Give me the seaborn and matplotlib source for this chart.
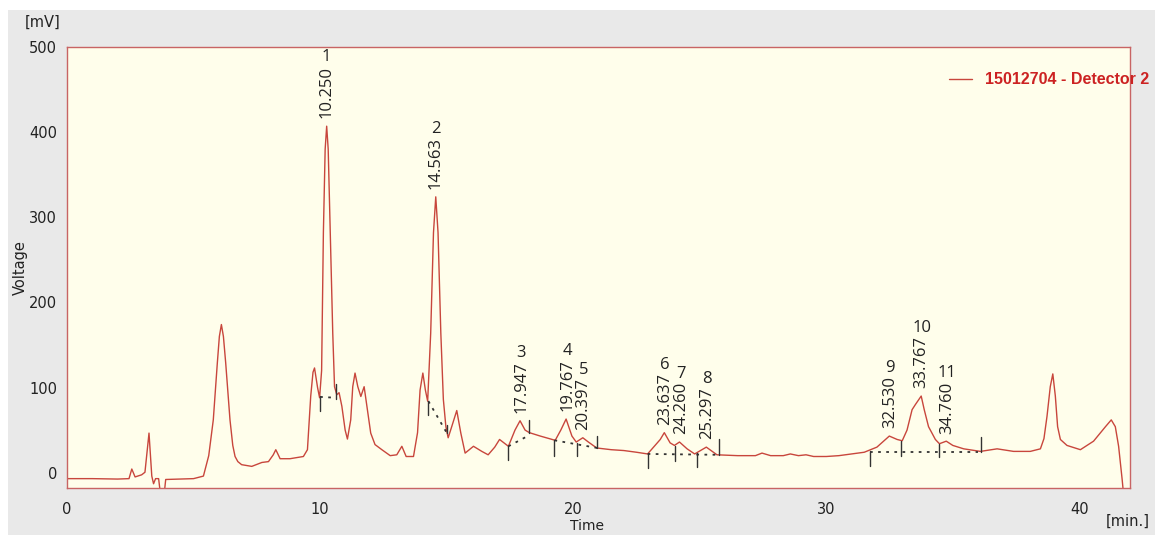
import numpy as np
import pandas as pd
import seaborn as sns
import matplotlib
matplotlib.use("Agg")
import matplotlib.pyplot as plt
from matplotlib.patches import Rectangle

# ---------------- data ----------------
time_min = [0.0, 1.0, 2.0, 2.45, 2.56, 2.69, 2.95, 3.08, 3.18, 3.24, 3.3, 3.35, 3.42, 3.5, 3.62, 3.68,
            3.85, 3.9, 4.5, 5.0, 5.39, 5.6, 5.78, 5.94, 6.02, 6.1, 6.18, 6.27, 6.44, 6.55, 6.64, 6.75,
            6.9, 7.3, 7.7, 7.96, 8.15, 8.25, 8.42, 8.81, 9.34, 9.5, 9.57, 9.63, 9.72, 9.78, 9.85, 9.9,
            9.98, 10.06, 10.13, 10.2, 10.26, 10.32,
            10.4, 10.5, 10.57, 10.66, 10.75, 10.86, 10.99, 11.08, 11.21, 11.29, 11.38, 11.49,
            11.61, 11.74, 11.87, 12.0, 12.17, 12.44, 12.77, 13.03, 13.23, 13.4, 13.69, 13.85,
            13.95, 14.06, 14.16, 14.25, 14.37, 14.48, 14.57, 14.66, 14.77, 14.87, 14.97,
            15.06, 15.2, 15.4, 15.56, 15.73, 16.06, 16.39, 16.64, 16.9, 17.09, 17.44, 17.7,
            17.9, 18.1, 18.27, 18.7, 19.29, 19.51, 19.72, 19.95, 20.12, 20.38, 20.6, 20.93,
            21.5, 22.0, 22.5, 22.94, 23.44, 23.6, 23.83, 24.0, 24.2, 24.5, 24.8, 25.26, 25.68,
            26.5, 27.2, 27.46, 27.8, 28.3, 28.58, 28.9, 29.2, 29.5, 30.0, 30.5, 31.0, 31.5,
            32.0, 32.49, 32.8, 33.0, 33.19, 33.39, 33.52, 33.75, 33.87, 34.04, 34.31, 34.47,
            34.74, 35.0, 35.43, 36.09, 36.75, 37.4, 38.06, 38.46, 38.6, 38.72, 38.85, 38.95,
            39.05, 39.14, 39.25, 39.51, 40.04, 40.56, 41.03, 41.26, 41.42, 41.55, 41.69, 41.76]
voltage_mv = [-7, -7, -7.5, -7, 4.3, -5, -2.5, 0.5, 30, 46.5, 20, -4, -13, -7, -7, -22,
              -22, -8, -7.5, -7, -4, 20, 62, 129, 160, 174, 160, 129, 62, 32, 19, 13,
              9.4, 7.4, 12, 13, 21, 27, 16.4, 16.4, 19, 27, 62, 90, 118, 123, 110, 100,
              88, 120, 282, 380, 407, 380,
              282, 164, 101, 91.5, 94, 78, 50, 39.5, 62, 101, 117, 101,
              89.5, 101, 74, 46.5, 33, 27, 20, 21, 31, 19, 19, 47,
              97, 117, 97, 84, 164, 282, 324, 282, 164, 86, 54,
              41, 54, 73, 46.5, 23, 31, 25, 21, 30, 39, 31, 50,
              61, 50, 47, 43, 38, 50, 63, 43, 36, 41, 36, 29,
              27, 26, 24, 22, 39, 47, 35, 32, 36, 28, 22, 30, 21,
              20, 20, 23, 20, 20, 22, 20, 21, 19, 19, 20, 22, 24,
              30, 43, 39, 37.5, 50, 74, 80, 90, 74, 54, 39, 34,
              37, 32, 28, 25, 28, 25, 25, 28, 40, 66, 101, 116,
              90, 54, 39, 32, 27, 37, 54, 62, 54, 31, -8, -30]

# integration markers (vertical ticks)
mark_t = [10.0, 10.62, 14.25, 15.03, 17.44, 18.27, 19.26, 20.17, 20.96,
          22.94, 24.03, 24.89, 25.78, 31.74, 32.95, 34.47, 36.11]
mark_lo = [72, 87, 68, 47, 15, 47, 20, 20, 29, 5.5, 14, 7, 21, 8, 20, 18, 24]
mark_hi = [90, 104, 84, 56, 31, 62, 38, 35, 43, 22, 31, 23, 39, 25, 37.5, 34, 42]

# dotted baselines (start time, start mV, end time, end mV)
base_t0 = [10.0, 14.28, 17.44, 19.26, 22.94, 31.74]
base_v0 = [89, 84, 31, 38, 22, 24.5]
base_t1 = [10.62, 15.0, 18.2, 20.96, 25.7, 36.0]
base_v1 = [88, 47, 43, 29, 21, 24.5]

# peak labels
peak_num = ["1", "2", "3", "4", "5", "6", "7", "8", "9", "10", "11"]
peak_rt = ["10.250", "14.563", "17.947", "19.767", "20.397", "23.637",
           "24.260", "25.297", "32.530", "33.767", "34.760"]
peak_t = [10.250, 14.563, 17.947, 19.767, 20.397, 23.637, 24.260, 25.297, 32.530, 33.767, 34.760]
peak_v = [408, 324, 61, 63, 41, 47, 36, 30, 43, 90, 37]

x_ticks = [0, 10, 20, 30, 40]
y_ticks = [0, 100, 200, 300, 400, 500]
series_name = "15012704 - Detector 2"

# ---------------- plotting ----------------
sns.set_style("white")
plt.rcParams["font.family"] = ["DejaVu Sans"]

W, H = 1155, 535
fig = plt.figure(figsize=(W / 100, H / 100), dpi=100)
fig.patch.set_facecolor("#e9e9e9")
fig.patches.append(Rectangle((0, 1 - 10 / H), 1, 10 / H, transform=fig.transFigure,
                             facecolor="white", edgecolor="none", zorder=0))
fig.patches.append(Rectangle((0, 0), 8 / W, 1, transform=fig.transFigure,
                             facecolor="white", edgecolor="none", zorder=0))

ax = fig.add_axes([67 / W, 1 - 488 / H, (1130 - 67) / W, (488 - 47) / H])
ax.set_facecolor("#fffeeb")

line_color = "#c8463c"
df = pd.DataFrame({"Time": time_min, "Voltage": voltage_mv})
sns.lineplot(data=df, x="Time", y="Voltage", ax=ax, color=line_color, lw=1.0,
             estimator=None, sort=False, label=series_name)

for t, lo, hi in zip(mark_t, mark_lo, mark_hi):
    ax.plot([t, t], [lo, hi], color="#333333", lw=1.0)
for t0, v0, t1, v1 in zip(base_t0, base_v0, base_t1, base_v1):
    ax.plot([t0, t1], [v0, v1], color="#333333", lw=1.3, ls=(0, (1.5, 3)))

label_font = ["Open Sans", "DejaVu Sans"]
for num, rt, t, v in zip(peak_num, peak_rt, peak_t, peak_v):
    ax.annotate(rt, xy=(t, v), xytext=(0, 5.5), textcoords="offset points",
                rotation=90, ha="center", va="bottom", fontsize=12,
                family=label_font, color="#222222")
    ax.annotate(num, xy=(t, v), xytext=(0, 49), textcoords="offset points",
                ha="center", va="center", fontsize=12,
                family=label_font, color="#222222")

ax.set_xlim(0, 42)
ax.set_ylim(-18, 500)
ax.set_xticks(x_ticks)
ax.set_yticks(y_ticks)
spine_color = "#c86464"
for s in ax.spines.values():
    s.set_color(spine_color)
    s.set_linewidth(1.0)
ax.tick_params(axis="y", direction="out", length=4, width=1, color=spine_color,
               pad=3, labelsize=10.5, labelcolor="#222222")
ax.tick_params(axis="x", direction="out", length=5, width=1, color=spine_color,
               pad=5, labelsize=10.5, labelcolor="#222222")
ax.set_xlabel("")
ax.set_ylabel("")

leg = ax.legend(loc="upper left", bbox_to_anchor=(935 / W, 1 - 58 / H),
                bbox_transform=fig.transFigure, frameon=False,
                handlelength=1.4, handletextpad=0.8,
                prop={"family": "Liberation Sans", "weight": "bold", "size": 11.5})
for txt in leg.get_texts():
    txt.set_color("#cc2222")
leg.set_clip_on(False)

fig.text(20 / W, 1 - 268 / H, "Voltage", rotation=90, ha="center", va="center",
         fontsize=10.5, color="#222222")
fig.text(43 / W, 1 - 22 / H, "[mV]", ha="center", va="center", fontsize=10.5, color="#222222")
fig.text(587 / W, 1 - 526 / H, "Time", ha="center", va="center", fontsize=10, color="#222222")
fig.text(1150 / W, 1 - 521 / H, "[min.]", ha="right", va="center", fontsize=10.5, color="#222222")

fig.savefig("out.png", dpi=100, facecolor=fig.get_facecolor())
